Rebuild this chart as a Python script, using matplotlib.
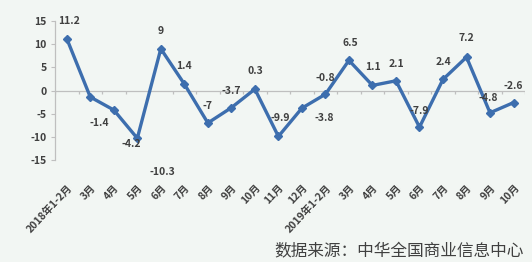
import matplotlib
matplotlib.use('Agg')
import matplotlib.pyplot as plt
import numpy as np

plt.rcParams['font.family'] = ['Noto Sans CJK SC', 'DejaVu Sans']

# DATA
months = ['2018年1-2月', '3月', '4月', '5月', '6月', '7月', '8月', '9月', '10月',
          '11月', '12月', '2019年1-2月', '3月', '4月', '5月', '6月', '7月', '8月',
          '9月', '10月']
growth = [11.2, -1.4, -4.2, -10.3, 9, 1.4, -7, -3.7, 0.3, -9.9, -3.8, -0.8,
          6.5, 1.1, 2.1, -7.9, 2.4, 7.2, -4.8, -2.6]
yticks = [15, 10, 5, 0, -5, -10, -15]
source = '数据来源：中华全国商业信息中心'

# label offsets in pixels (dx, dy)
offsets = [(2, 18), (9, -26), (17, -34), (25, -34), (0, 18), (0, 18), (0, 17),
           (0, 17), (0, 18), (2, 18), (22, -10), (0, 16), (1, 17), (0, 18),
           (0, 17), (0, 16), (0, 17), (0, 19), (-2, 15), (0, 17)]

BG = '#F2F6F3'
LINE = '#3D6EAE'
TXT = '#404040'
AXC = '#BFBFBF'

fig = plt.figure(figsize=(5.32, 2.62), dpi=100, facecolor=BG)
ax = fig.add_axes([0.1034, 0.389, 0.884, 0.531], facecolor=BG)

x = np.arange(len(growth))
ax.plot(x, growth, color=LINE, linewidth=2.4, marker='D', markersize=4.5,
        markerfacecolor=LINE, markeredgecolor=LINE, zorder=3)

for i, v in enumerate(growth):
    dx, dy = offsets[i]
    ax.annotate(str(v), (x[i], v), xytext=(dx, dy), textcoords='offset pixels',
                ha='center', va='center', fontsize=7.5, fontweight='bold',
                color=TXT, zorder=4)

# zero line with category boundary ticks
ax.axhline(0, color=AXC, linewidth=0.9, zorder=1)
ax.vlines(np.arange(len(growth) + 1) - 0.5, -0.7, 0, color=AXC, linewidth=0.9, zorder=1)

ax.set_xlim(-0.5, len(growth) - 0.5)
ax.set_ylim(-15, 15)
ax.set_yticks(yticks)
ax.set_yticklabels([str(t) for t in yticks])
ax.set_xticks(x)
ax.set_xticklabels(months, rotation=47, ha='right', rotation_mode='anchor')

ax.tick_params(axis='x', length=0, pad=16, labelsize=7.5, labelcolor=TXT)
ax.tick_params(axis='y', length=3, color=AXC, pad=3, labelsize=7.5, labelcolor=TXT)
for lab in ax.get_xticklabels() + ax.get_yticklabels():
    lab.set_fontweight('bold')

for s in ['top', 'right', 'bottom']:
    ax.spines[s].set_visible(False)
ax.spines['left'].set_color(AXC)
ax.spines['left'].set_linewidth(0.9)

fig.text(0.515, 0.038, source, fontsize=12, color=TXT, ha='left', va='center')

fig.savefig('out.png', dpi=100, facecolor=BG)
